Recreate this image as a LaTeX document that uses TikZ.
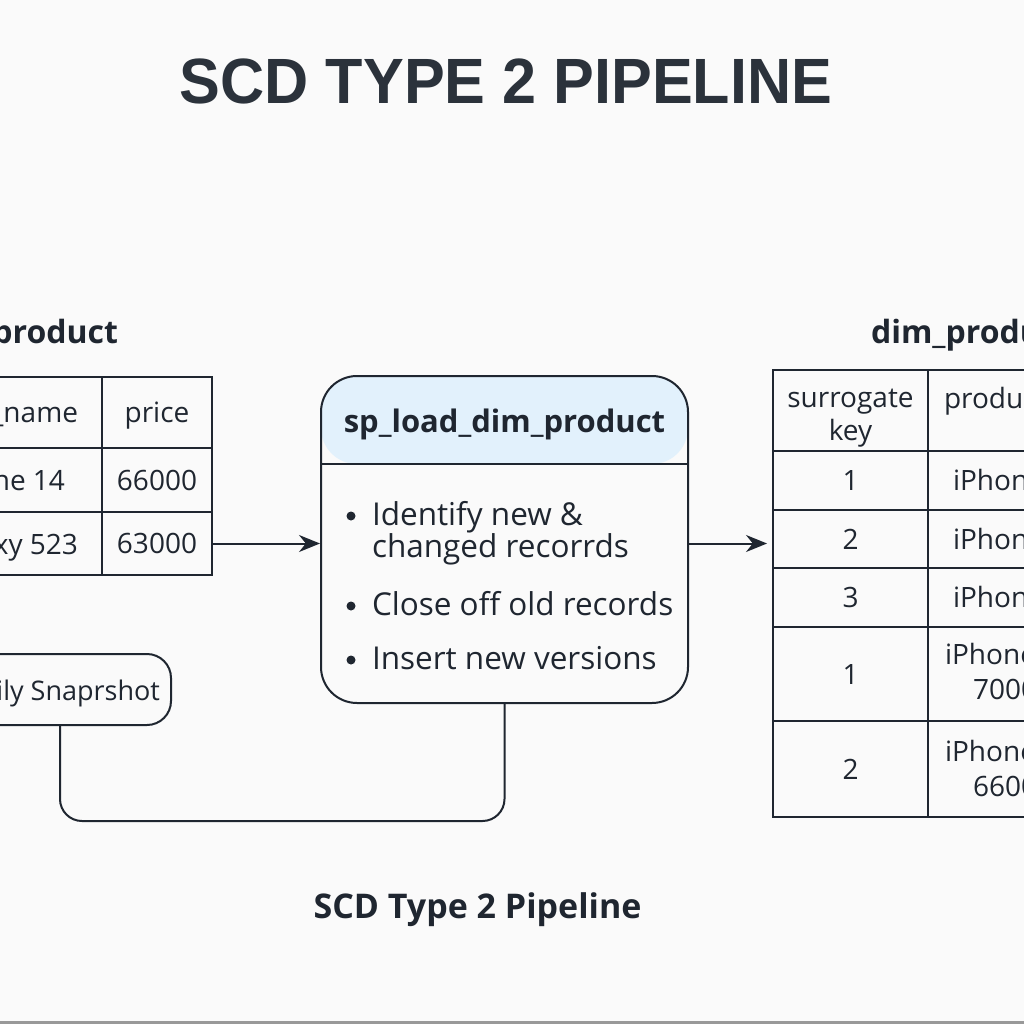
\documentclass[tikz,border=0pt]{standalone}
\usepackage{fontspec}
\setmainfont{Open Sans}
\newfontfamily\headfont{Liberation Sans}
\usepackage{xcolor}
\usetikzlibrary{arrows.meta, positioning}
\definecolor{ink}{HTML}{1F2630}
\definecolor{titleink}{HTML}{2B323B}
\definecolor{paper}{HTML}{FAFAFA}
\definecolor{headblue}{HTML}{E2F1FC}

\begin{document}
\begin{tikzpicture}[x=1pt, y=-1pt, line width=2pt, >={Stealth[length=21pt, width=17pt]},
    every node/.style={text=ink},
    cell/.style={draw=ink, line width=2pt, inner sep=0pt, text height=20pt, text depth=0pt, align=center, font=\fontsize{28}{33}\selectfont},
    celltext/.style={inner sep=0pt, align=center, font=\fontsize{28}{33}\selectfont},
    tabtitle/.style={inner sep=0pt, font=\bfseries\fontsize{32}{36}\selectfont},
    item/.style={anchor=base west, inner sep=0pt, font=\fontsize{31.5}{38}\selectfont},
    link/.style={draw=ink, line width=2pt}]
    \useasboundingbox (0,0) rectangle (1024,1024);
    \clip (0,0) rectangle (1024,1024);
    \fill[paper] (0,0) rectangle (1024,1024);
    \fill[black!40] (0,1021) rectangle (1024,1024);

    \node[anchor=base, inner sep=0pt, text=titleink, font=\headfont\bfseries\fontsize{64}{70}\selectfont] (title) at (506,104) {\scalebox{0.955}[1]{SCD TYPE 2 PIPELINE}};

    \node[tabtitle, anchor=base east] (srctitle) at (119,343) {product};
    \node[cell, minimum width=238pt, minimum height=71pt] (s11) at (-17,412.5) {};
    \node[cell, minimum width=110pt, minimum height=71pt] (s12) at (157,412.5) {price};
    \node[cell, minimum width=238pt, minimum height=64pt] (s21) at (-17,480) {};
    \node[cell, minimum width=110pt, minimum height=64pt] (s22) at (157,480) {66000};
    \node[cell, minimum width=238pt, minimum height=63pt] (s31) at (-17,543.5) {};
    \node[cell, minimum width=110pt, minimum height=63pt] (s32) at (157,543.5) {63000};
    \node[celltext, anchor=base east] at (79,422) {product\_name};
    \node[celltext, anchor=base east] at (66,490) {iPhone 14};
    \node[celltext, anchor=base east] at (79,554) {Galaxy 523};

    \node[cell, minimum width=240pt, minimum height=71pt, rounded corners=24pt] (snap) at (51,689.5) {};
    \node[celltext, anchor=base east, font=\fontsize{27}{33}\selectfont] at (161,700) {Daily Snaprshot};

    \coordinate (hdr) at (0,464);
    \node[draw=ink, line width=2pt, rounded corners=36pt, minimum width=367pt, minimum height=327pt,
      path picture={\fill[headblue] (path picture bounding box.north east) rectangle (path picture bounding box.west |- hdr);}] (sp) at (504.5,539.5) {};
    \draw[link] (sp.west |- hdr) -- (sp.east |- hdr);
    \node[anchor=base, inner sep=0pt, font=\bfseries\fontsize{31}{36}\selectfont] (sphead) at (504.5,432) {sp\_load\_dim\_product};
    \node[item] (it1) at (371,525) {Identify new \&};
    \node[item] (it1b) at (371,557) {changed recorrds};
    \node[item] (it2) at (371,615) {Close off old records};
    \node[item] (it3) at (371,669) {Insert new versions};
    \foreach \y in {516,606,660} \fill[ink] (351,\y) circle (4.5pt);

    \node[tabtitle, anchor=base west] (dimtitle) at (870,343) {dim\_product};
    \node[cell, minimum width=155pt, minimum height=81pt] (d01) at (850.5,410.5) {};
    \node[cell, minimum width=180pt, minimum height=81pt] (d02) at (1018,410.5) {};
    \node[cell, minimum width=155pt, minimum height=59pt] (d11) at (850.5,480.5) {1};
    \node[cell, minimum width=180pt, minimum height=59pt] (d12) at (1018,480.5) {};
    \node[cell, minimum width=155pt, minimum height=58pt] (d21) at (850.5,539) {2};
    \node[cell, minimum width=180pt, minimum height=58pt] (d22) at (1018,539) {};
    \node[cell, minimum width=155pt, minimum height=59pt] (d31) at (850.5,597.5) {3};
    \node[cell, minimum width=180pt, minimum height=59pt] (d32) at (1018,597.5) {};
    \node[cell, minimum width=155pt, minimum height=94pt] (d41) at (850.5,674) {1};
    \node[cell, minimum width=180pt, minimum height=94pt] (d42) at (1018,674) {};
    \node[cell, minimum width=155pt, minimum height=96pt] (d51) at (850.5,769) {2};
    \node[cell, minimum width=180pt, minimum height=96pt] (d52) at (1018,769) {};
    \node[celltext, anchor=base] at (850.5,407) {surrogate};
    \node[celltext, anchor=base] at (850.5,440) {key};
    \node[celltext, anchor=base west] at (943,408) {product\_name};
    \node[celltext, anchor=base west] at (952,490.5) {iPhone 14};
    \node[celltext, anchor=base west] at (952,549) {iPhone 14};
    \node[celltext, anchor=base west] at (952,607.5) {iPhone 14};
    \node[celltext, anchor=base west] at (944,664) {iPhone 14};
    \node[celltext, anchor=base west] at (972,699) {70000};
    \node[celltext, anchor=base west] at (944,761) {iPhone 14};
    \node[celltext, anchor=base west] at (972,796) {66000};

    \draw[link, ->] (s32.east) -- (sp.west |- s32.east);
    \draw[link, ->, shorten >=5pt] (sp.east |- s32.east) -- (d21.west |- s32.east);
    \draw[link, rounded corners=22pt] (snap.south -| 60,0) |- (sp.south |- 0,821) -- (sp.south);

    \node[anchor=base, inner sep=0pt, font=\bfseries\fontsize{34}{38}\selectfont] (caption) at (477.5,918) {SCD Type 2 Pipeline};
  \end{tikzpicture}
\end{document}
